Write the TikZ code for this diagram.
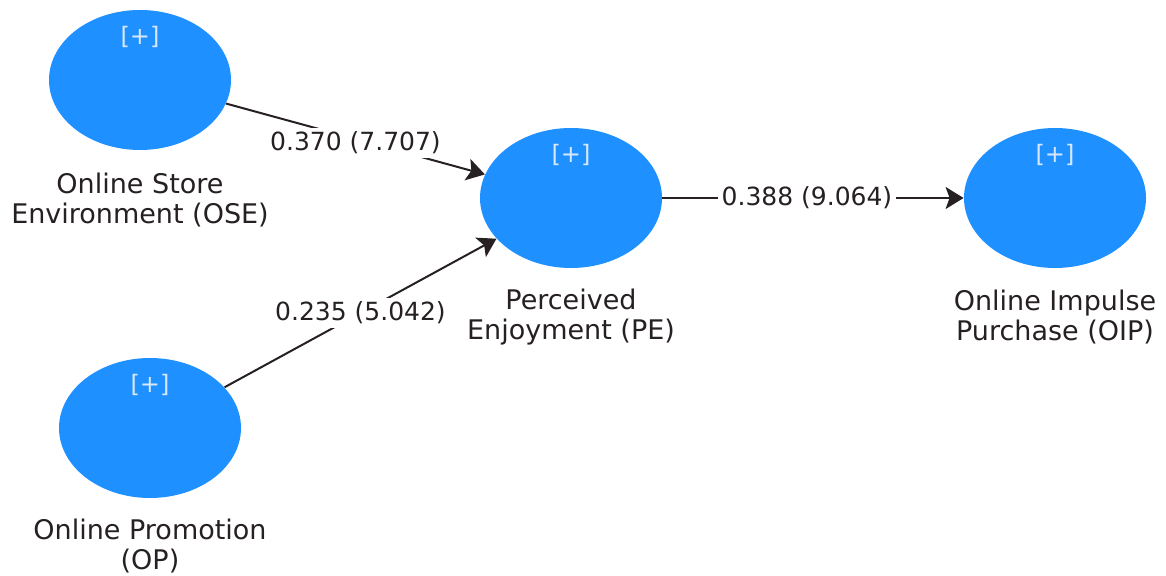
\documentclass[tikz,border=0pt]{standalone}
\usepackage{fontspec}
\setmainfont{DejaVu Sans}
\usetikzlibrary{shapes.geometric,arrows.meta}
\definecolor{dodger}{RGB}{30,144,255}
\definecolor{plustext}{RGB}{215,232,250}
\definecolor{labeltext}{RGB}{38,32,34}
\begin{document}
\begin{tikzpicture}[x=0.5pt,y=-0.5pt,
		latent/.style={ellipse, fill=dodger, minimum width=91pt, minimum height=70pt, inner sep=0pt},
		plus/.style={text=plustext, font=\fontsize{12}{14}\selectfont},
		name text/.style={text=labeltext, align=center, font=\fontsize{13.5}{15}\selectfont},
		path coef/.style={fill=white, text=labeltext, inner sep=2pt, font=\fontsize{12.5}{15}\selectfont},
		path line/.style={line width=1pt, draw=labeltext, -{Stealth[length=9pt,width=11pt,inset=2pt]}}]
			\useasboundingbox (0,0) rectangle (1166,576);
			% constructs
			\node [latent] (ose) at (140,80) {};
			\node [latent] (op) at (150,428) {};
			\node [latent] (pe) at (571,198) {};
			\node [latent] (oip) at (1055,198) {};
			\node [plus] (ose-p) at (140,37) {[+]};
			\node [plus] (op-p) at (150,385) {[+]};
			\node [plus] (pe-p) at (571,155) {[+]};
			\node [plus] (oip-p) at (1055,155) {[+]};
			\node [name text] (ose-n) at (140,200) {Online Store\\Environment (OSE)};
			\node [name text] (op-n) at (150,546) {Online Promotion\\(OP)};
			\node [name text] (pe-n) at (571,317) {Perceived\\Enjoyment (PE)};
			\node [name text] (oip-n) at (1055,317) {Online Impulse\\Purchase (OIP)};
			% paths
			\draw [path line] (ose) -- node[path coef, yshift=-2pt] (c1) {0.370 (7.707)} (pe);
			\draw [path line] (op) -- node[path coef] (c2) {0.235 (5.042)} (pe);
			\draw [path line] (pe) -- node[path coef, pos=0.48] (c3) {0.388 (9.064)} (oip);
		\end{tikzpicture}
\end{document}
